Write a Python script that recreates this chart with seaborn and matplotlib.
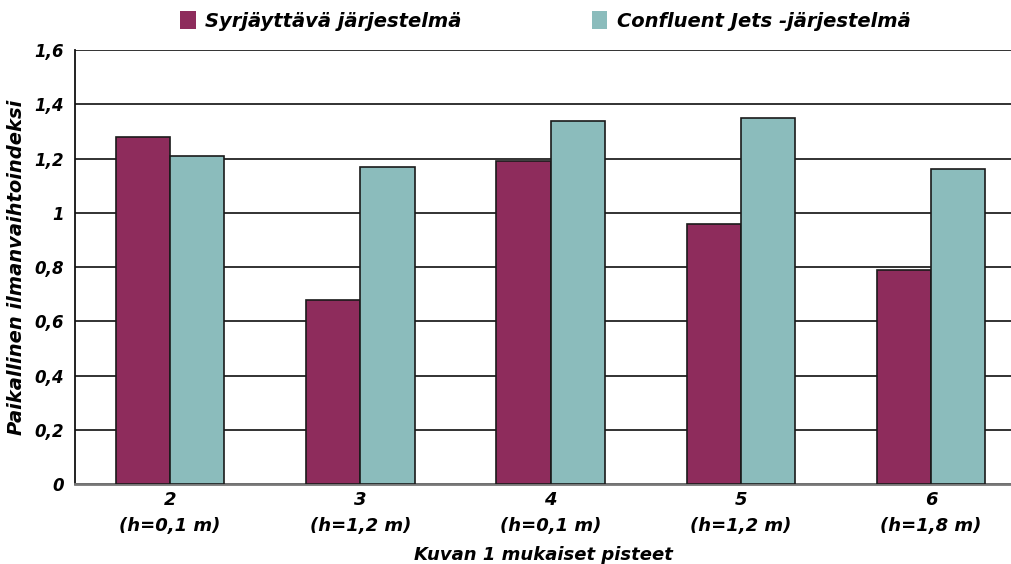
import matplotlib
matplotlib.use("Agg")
import matplotlib.pyplot as plt
import seaborn as sns
import pandas as pd
import numpy as np
from matplotlib.patches import Patch

categories = ["2\n(h=0,1 m)", "3\n(h=1,2 m)", "4\n(h=0,1 m)", "5\n(h=1,2 m)", "6\n(h=1,8 m)"]
series_names = ["Syrjäyttävä järjestelmä", "Confluent Jets -järjestelmä"]
syrjayttava = [1.28, 0.68, 1.19, 0.96, 0.79]
confluent = [1.21, 1.17, 1.34, 1.35, 1.16]
yticks = [0, 0.2, 0.4, 0.6, 0.8, 1.0, 1.2, 1.4, 1.6]
ytick_labels = ["0", "0,2", "0,4", "0,6", "0,8", "1", "1,2", "1,4", "1,6"]
colors = ["#8E2C5C", "#8BBCBC"]

df = pd.DataFrame({
    "cat": categories * 2,
    "series": [series_names[0]] * 5 + [series_names[1]] * 5,
    "value": syrjayttava + confluent,
})

sns.set_theme(style="white")
plt.rcParams['font.family'] = ['DejaVu Sans']
plt.rcParams['text.color'] = 'black'
plt.rcParams['axes.labelcolor'] = 'black'
plt.rcParams['xtick.color'] = 'black'
plt.rcParams['ytick.color'] = 'black'

fig = plt.figure(figsize=(10.12, 5.64), dpi=100)
ax = fig.add_axes([0.0741, 0.1418, 0.9259, 0.7695])

sns.barplot(data=df, x="cat", y="value", hue="series", palette=colors,
            width=0.57, edgecolor="#1a1a1a", linewidth=1.2, ax=ax, legend=False,
            saturation=1, zorder=3)

ax.set_ylim(0, 1.6)
ax.set_xlim(-0.5, 4.425)
ax.set_yticks(yticks)
ax.set_yticklabels(ytick_labels, fontsize=12, fontweight="bold", fontstyle="italic")
ax.set_xticks(range(5))
ax.set_xticklabels(categories, fontsize=13, fontweight="bold", fontstyle="italic", linespacing=1.55)
ax.set_xticks(np.arange(0.5, 4.5, 1), minor=True)
ax.tick_params(axis="x", which="major", length=0, pad=5)
ax.tick_params(axis="x", which="minor", length=6, width=1, color="#333333", direction="out")
ax.tick_params(axis="y", which="major", length=6, width=1.2, color="#222222", direction="out", pad=2)
ax.yaxis.grid(True, color="#222222", linewidth=1.3, zorder=0)
ax.set_axisbelow(True)

for s in ["top", "right"]:
    ax.spines[s].set_visible(False)
ax.spines["left"].set_color("#111111")
ax.spines["left"].set_linewidth(1.3)
ax.spines["bottom"].set_color("#777777")
ax.spines["bottom"].set_linewidth(2)

ax.set_xlabel("Kuvan 1 mukaiset pisteet", fontsize=13, fontweight="bold", fontstyle="italic", labelpad=8)
ax.set_ylabel("Paikallinen ilmanvaihtoindeksi", fontsize=14, fontweight="bold", fontstyle="italic", labelpad=6)

handles = [Patch(facecolor=c, edgecolor="none") for c in colors]
fig.legend(handles, series_names, loc="center", bbox_to_anchor=(0.539, 0.963), ncol=2,
           frameon=False, prop={"weight": "bold", "style": "italic", "size": 14},
           handlelength=0.8, handleheight=1.0, handletextpad=0.5, columnspacing=6.7)

fig.savefig("out.png", dpi=100)
